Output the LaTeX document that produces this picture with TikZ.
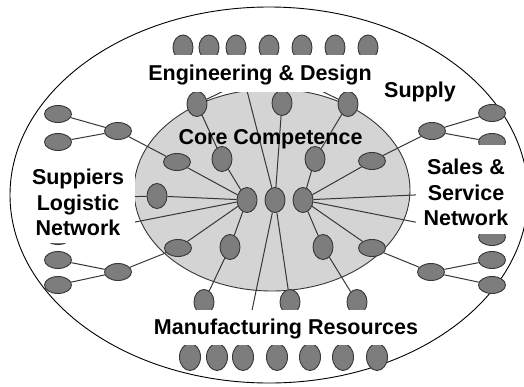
\documentclass[tikz,border=0pt]{standalone}
\usepackage{fontspec}
\setmainfont{Liberation Sans}
\usetikzlibrary{shapes.geometric}
\definecolor{ndfill}{RGB}{125,125,125}
\definecolor{ndline}{RGB}{55,55,55}
\definecolor{corefill}{RGB}{212,212,212}
\begin{document}
\begin{tikzpicture}[x=1pt,y=-1pt,
  nd/.style={ellipse, draw=ndline, fill=ndfill, line width=0.9pt, inner sep=0pt},
  hn/.style={nd, minimum width=27pt, minimum height=17pt},
  vn/.style={nd, minimum width=20pt, minimum height=25pt},
  bn/.style={nd, minimum width=21pt, minimum height=27pt},
  ln/.style={draw=ndline, line width=1pt},
  lab/.style={font=\fontsize{21.5}{25.5}\selectfont\bfseries, align=center, inner sep=0pt},
  mask/.style={lab, fill=white}
]
\useasboundingbox (0,0) rectangle (524,386);
\clip (0,0) rectangle (524,386);
% outer and core regions
\draw[line width=0.9pt, fill=white] (269,195) ellipse [x radius=259pt, y radius=188pt];
\draw[draw=ndline, line width=0.9pt, fill=corefill] (272,190) ellipse [x radius=138pt, y radius=101pt];

% top row
\foreach \i/\x in {1/183,2/209,3/236,4/269,5/302,6/335,7/368}
  \node[vn] (t\i) at (\x,47.5) {};
% bottom row
\foreach \i/\x in {1/190,2/217,3/243,4/277,5/310,6/343,7/377}
  \node[bn] (b\i) at (\x,357) {};

% inner nodes
\node[vn] (tl) at (197,104) {};
\node[vn] (tc) at (282,103) {};
\node[vn] (tr) at (348,104) {};
\node[hn] (hl) at (177,162) {};
\node[vn] (vl) at (222,159) {};
\node[vn] (vr) at (315,159) {};
\node[hn] (hr) at (372,161) {};
\node[vn] (lv) at (157,196) {};
\node[vn] (cl) at (247,200) {};
\node[vn] (cm) at (275,200) {};
\node[vn] (cr) at (303,200) {};
\node[hn] (lhl) at (178,248) {};
\node[vn] (lvl) at (230,247) {};
\node[vn] (lvr) at (323,247) {};
\node[hn] (lhr) at (372,248) {};
\node[vn] (bl) at (204,302) {};
\node[vn] (bm) at (290,302) {};
\node[vn] (br) at (357,302) {};

% left outer nodes
\node[hn] (ml1) at (118,131) {};
\node[hn] (ol1) at (58,114) {};
\node[hn] (ol2) at (58,142) {};
\node[hn] (ol3) at (58,236) {};
\node[hn] (ml2) at (118,272) {};
\node[hn] (ol4) at (58,260) {};
\node[hn] (ol5) at (58,285) {};
% right outer nodes
\node[hn] (mr1) at (432,131) {};
\node[hn] (or1) at (492,113) {};
\node[hn] (or2) at (492,142) {};
\node[hn] (or3) at (492,237) {};
\node[hn] (mr2) at (431,272) {};
\node[hn] (or4) at (492,260) {};
\node[hn] (or5) at (492,285) {};

% hidden line ends (behind labels)
\coordinate (ptl) at (240,83);
\coordinate (ptr) at (305,83);
\coordinate (pcu) at (245,83);
\coordinate (pcd) at (250,320);
\coordinate (pl1) at (120,197);
\coordinate (pl2) at (120,225);
\coordinate (pr1) at (425,194.5);
\coordinate (pr2) at (425,224);

% connectors
\draw[ln] (ol1) -- (ml1);
\draw[ln] (ol2) -- (ml1);
\draw[ln] (ml1) -- (hl);
\draw[ln] (hl) -- (cl);
\draw[ln] (tl) -- (vl);
\draw[ln] (vl) -- (cl);
\draw[ln] (tl) -- (ptl);
\draw[ln] (lv) -- (cl);
\draw[ln] (lv) -- (pl1);
\draw[ln] (cl) -- (pl2);
\draw[ln] (cl) -- (lhl);
\draw[ln] (lhl) -- (ml2);
\draw[ln] (ml2) -- (ol4);
\draw[ln] (ml2) -- (ol5);
\draw[ln] (cl) -- (lvl);
\draw[ln] (lvl) -- (bl);
\draw[ln] (cm) -- (pcu);
\draw[ln] (cm) -- (tc);
\draw[ln] (cm) -- (pcd);
\draw[ln] (cm) -- (bm);
\draw[ln] (cr) -- (vr);
\draw[ln] (vr) -- (tr);
\draw[ln] (tr) -- (ptr);
\draw[ln] (cr) -- (hr);
\draw[ln] (hr) -- (mr1);
\draw[ln] (mr1) -- (or1);
\draw[ln] (mr1) -- (or2);
\draw[ln] (cr) -- (pr1);
\draw[ln] (cr) -- (pr2);
\draw[ln] (cr) -- (lhr);
\draw[ln] (lhr) -- (mr2);
\draw[ln] (mr2) -- (or4);
\draw[ln] (mr2) -- (or5);
\draw[ln] (cr) -- (lvr);
\draw[ln] (lvr) -- (br);

% labels
\node[mask, minimum width=240pt, minimum height=37pt, text height=17pt, text depth=3pt] (eng) at (260,73.5) {Engineering \& Design};
\node[lab, anchor=base] (sup) at (420,97) {Supply};
\node[lab, anchor=base] (core) at (270.5,144) {Core Competence};
\node[mask, minimum width=114pt, minimum height=88pt] (sln) at (78,198.5) {\rule{0pt}{24pt}Suppiers\\Logistic\\Network};
\node[mask, minimum width=100pt, minimum height=89pt] (ssn) at (466,189.5) {\rule{0pt}{22pt}Sales \&\\Service\\Network};
\node[mask, minimum width=272pt, minimum height=35pt, text height=17pt, text depth=3pt] (mfg) at (286,327.5) {Manufacturing Resources};
\end{tikzpicture}
\end{document}
